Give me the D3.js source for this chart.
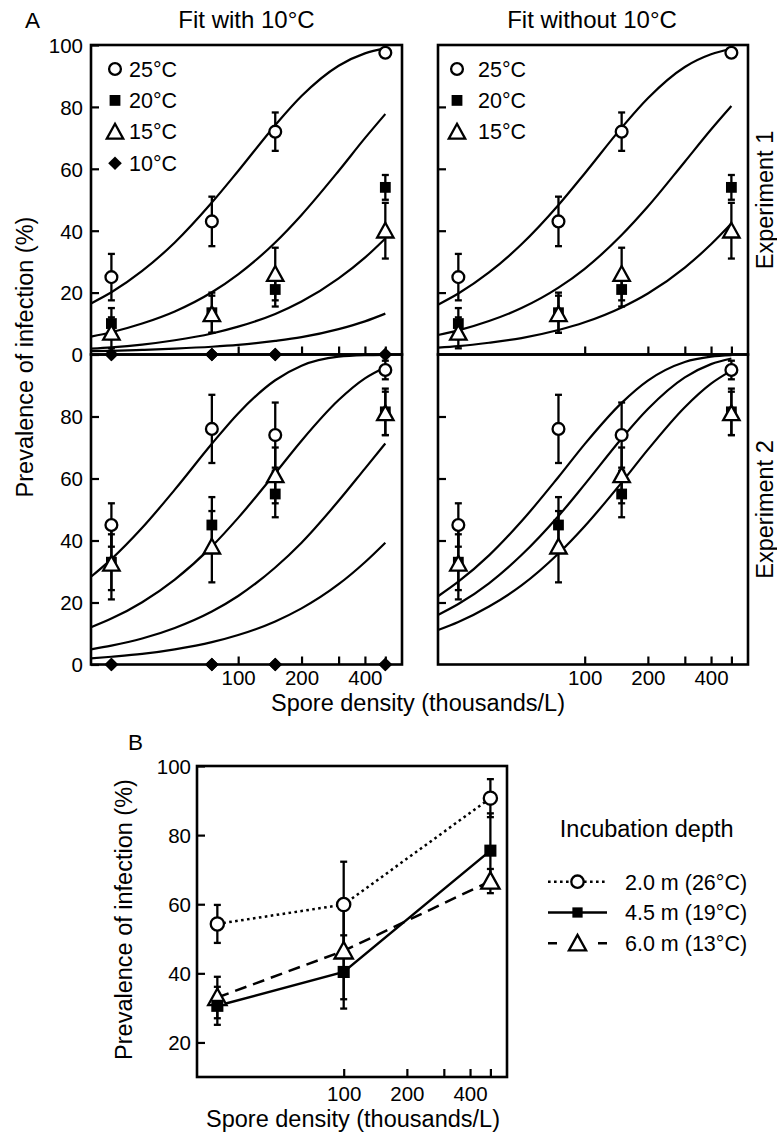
<!DOCTYPE html>
<html><head><meta charset="utf-8">
<script src="https://cdn.jsdelivr.net/npm/d3@7"></script>
<style>
html,body{margin:0;padding:0;background:#fff;}
svg text{font-family:"Liberation Sans",Arial,Helvetica,sans-serif;fill:#000;}
</style></head>
<body>
<svg id="chart" width="777" height="1133"></svg>
<script>
// ---------- DATA ----------
const densities = [25, 75, 150, 500];          // spore density (thousands/L), panel A
const densitiesB = [25, 100, 500];             // panel B
const xTickValues = [100, 200, 300, 400, 500];
const xTickLabels = ["100", "200", "", "400", ""];
const yTicksA = [0, 20, 40, 60, 80, 100];
const yTicksB = [20, 40, 60, 80, 100];
const tempLabels = ["25°C", "20°C", "15°C", "10°C"];

// Experiment 1 observed prevalence (%) and error
const exp1_25 = [25, 43, 72, 97.5];   const exp1_25_err = [7.5, 8, 6.2, 0];
const exp1_20 = [10, 13.5, 21, 54];   const exp1_20_err = [5, 6.5, 5.5, 4];
const exp1_15 = [7, 13, 26, 40];      const exp1_15_err = [5, 6, 8.5, 9];
const exp1_10 = [0, 0, 0, 0];
// Experiment 2
const exp2_25 = [45, 76, 74, 95];     const exp2_25_err = [7, 11, 10.5, 3];
const exp2_20 = [33, 45, 55, 81.5];   const exp2_20_err = [9, 9, 7.5, 7.5];
const exp2_15 = [32.5, 38, 61, 81];   const exp2_15_err = [11.5, 11.5, 9, 7];
const exp2_10 = [0, 0, 0, 0];

// fitted curves at these densities
const curveX = [20, 25, 35, 50, 75, 100, 150, 200, 300, 400, 500];
const fitWith_exp1_25 = [16.5, 20.1, 27.0, 36.2, 49.1, 59.3, 74.1, 83.5, 93.3, 97.3, 98.9];
const fitWith_exp1_20 = [5.8, 7.2, 10.0, 13.9, 20.1, 25.9, 36.2, 45.1, 59.3, 69.9, 77.7];
const fitWith_exp1_15 = [1.9, 2.3, 3.2, 4.6, 6.8, 9.0, 13.1, 17.1, 24.6, 31.3, 37.5];
const fitWith_exp1_10 = [1.1, 1.2, 1.5, 1.9, 2.5, 3.1, 4.4, 5.6, 8.2, 10.7, 13.2];
const fitWithout_exp1_25 = [16.1, 19.7, 26.5, 35.6, 48.3, 58.5, 73.3, 82.8, 92.9, 97.0, 98.8];
const fitWithout_exp1_20 = [6.3, 7.8, 10.8, 15.0, 21.6, 27.7, 38.6, 47.8, 62.3, 72.7, 80.3];
const fitWithout_exp1_15 = [2.2, 2.7, 3.8, 5.3, 7.9, 10.4, 15.2, 19.7, 28.1, 35.6, 42.3];
const fitWith_exp2_25 = [28.3, 34.0, 44.1, 56.4, 71.2, 81.0, 91.7, 96.4, 99.3, 99.8, 99.9];
const fitWith_exp2_20 = [12.0, 14.8, 20.1, 27.4, 38.1, 47.3, 61.7, 72.2, 85.3, 92.3, 95.9];
const fitWith_exp2_15 = [4.9, 6.1, 8.4, 11.8, 17.1, 22.1, 31.3, 39.3, 52.8, 63.2, 71.3];
const fitWith_exp2_10 = [2.0, 2.5, 3.4, 4.9, 7.2, 9.5, 13.9, 18.1, 25.9, 33.0, 39.3];
const fitWithout_exp2_25 = [22.0, 26.7, 35.2, 46.2, 60.5, 71.1, 84.4, 91.6, 97.6, 99.3, 99.8];
const fitWithout_exp2_20 = [16.0, 19.5, 26.2, 35.3, 47.9, 58.1, 72.9, 82.4, 92.6, 96.9, 98.7];
const fitWithout_exp2_15 = [11.1, 13.7, 18.7, 25.5, 35.8, 44.6, 58.7, 69.3, 83.0, 90.6, 94.8];

// Panel B: incubation depth
const depthLabels = ["2.0 m (26°C)", "4.5 m (19°C)", "6.0 m (13°C)"];
const depth20 = [54.3, 59.9, 90.7];  const depth20_err = [5.5, 12.4, 5.5];
const depth45 = [30.6, 40.4, 75.5];  const depth45_err = [5.5, 10.6, 10.8];
const depth60 = [33.0, 46.5, 66.7];  const depth60_err = [6, 14, 3.5];

// ---------- DRAWING ----------
const svg = d3.select("#chart");
const FONT_TICK = 20.5, FONT_LAB = 23.5, FONT_TITLE = 24, FONT_LEG = 21.5;

function marker(g, type, x, y, s) {
  s = s || 1;
  if (type === "circle") {
    g.append("circle").attr("cx", x).attr("cy", y).attr("r", 5.9 * s)
      .attr("fill", "#fff").attr("stroke", "#000").attr("stroke-width", 2.3);
  } else if (type === "square") {
    const h = 5.4 * s;
    g.append("rect").attr("x", x - h).attr("y", y - h).attr("width", 2 * h).attr("height", 2 * h)
      .attr("fill", "#000");
  } else if (type === "triangle") {
    const w = 8.2 * s, up = 8 * s, dn = 6.8 * s;
    g.append("path").attr("d", `M${x},${y - up}L${x + w},${y + dn}L${x - w},${y + dn}Z`)
      .attr("fill", "#fff").attr("stroke", "#000").attr("stroke-width", 2.3).attr("stroke-linejoin", "miter");
  } else if (type === "diamond") {
    const h = 6.8 * s;
    g.append("path").attr("d", `M${x},${y - h}L${x + h},${y}L${x},${y + h}L${x - h},${y}Z`).attr("fill", "#000");
  }
}

function errBars(g, x, y, xs, vals, errs) {
  vals.forEach((v, i) => {
    const e = errs[i];
    if (!e) return;
    const px = x(xs[i]);
    g.append("line").attr("x1", px).attr("x2", px).attr("y1", y(v - e)).attr("y2", y(v + e))
      .attr("stroke", "#000").attr("stroke-width", 2.3);
    [v - e, v + e].forEach(c => g.append("line").attr("x1", px - 3.5).attr("x2", px + 3.5)
      .attr("y1", y(c)).attr("y2", y(c)).attr("stroke", "#000").attr("stroke-width", 2.3));
  });
}

function styleAxis(a) {
  a.select(".domain").remove();
  a.selectAll(".tick line").attr("stroke", "#000").attr("stroke-width", 2.2);
  a.selectAll(".tick text").attr("font-size", FONT_TICK).attr("font-family", null);
}

function panel(opt) {
  const g = svg.append("g");
  const x = d3.scaleLog().domain([20, 600]).range(opt.xr);
  const y = d3.scaleLinear().domain([0, 100]).range(opt.yr);
  const ya = g.append("g").attr("transform", `translate(${opt.xr[0]},0)`)
    .call(d3.axisLeft(y).tickValues(opt.yticks).tickSizeInner(-8).tickSizeOuter(0).tickPadding(8)
      .tickFormat(opt.ylabels ? d3.format("d") : () => ""));
  styleAxis(ya);
  ya.selectAll(".tick text").attr("dy", "0.36em");
  const xa = g.append("g").attr("transform", `translate(0,${opt.yr[0]})`)
    .call(d3.axisBottom(x).tickValues(xTickValues).tickSizeInner(-8).tickSizeOuter(0).tickPadding(5.5)
      .tickFormat((d, i) => opt.xlabels ? xTickLabels[i] : ""));
  styleAxis(xa);
  const line = d3.line().x((d, i) => x(curveX[i])).y(d => y(d)).curve(d3.curveMonotoneX);
  opt.curves.forEach(c => g.append("path").attr("d", line(c)).attr("fill", "none")
    .attr("stroke", "#000").attr("stroke-width", 2.2));
  opt.series.forEach(s => { if (s.err) errBars(g, x, y, densities, s.vals, s.err); });
  opt.series.forEach(s => s.vals.forEach((v, i) => marker(g, s.type, x(densities[i]), y(v))));
  g.append("rect").attr("x", opt.xr[0]).attr("y", opt.yr[1]).attr("width", opt.xr[1] - opt.xr[0])
    .attr("height", opt.yr[0] - opt.yr[1]).attr("fill", "none").attr("stroke", "#000").attr("stroke-width", 2.6);
  opt.series.filter(s => s.type === "diamond").forEach(s => s.vals.forEach((v, i) => marker(g, "diamond", x(densities[i]), y(v))));
  return { g, x, y };
}

const XL = [91, 402], XR = [438, 748];
const YT = [354.5, 45], YB = [664.5, 354.5];

const s1 = [
  { type: "circle", vals: exp1_25, err: exp1_25_err },
  { type: "square", vals: exp1_20, err: exp1_20_err },
  { type: "triangle", vals: exp1_15, err: exp1_15_err }];
const s2 = [
  { type: "circle", vals: exp2_25, err: exp2_25_err },
  { type: "square", vals: exp2_20, err: exp2_20_err },
  { type: "triangle", vals: exp2_15, err: exp2_15_err }];

panel({ xr: XL, yr: YT, yticks: yTicksA, ylabels: true, xlabels: false,
  curves: [fitWith_exp1_25, fitWith_exp1_20, fitWith_exp1_15, fitWith_exp1_10],
  series: s1.concat([{ type: "diamond", vals: exp1_10 }]) });
panel({ xr: XR, yr: YT, yticks: [20, 40, 60, 80], ylabels: false, xlabels: false,
  curves: [fitWithout_exp1_25, fitWithout_exp1_20, fitWithout_exp1_15], series: s1 });
panel({ xr: XL, yr: YB, yticks: [0, 20, 40, 60, 80], ylabels: true, xlabels: true,
  curves: [fitWith_exp2_25, fitWith_exp2_20, fitWith_exp2_15, fitWith_exp2_10],
  series: s2.concat([{ type: "diamond", vals: exp2_10 }]) });
panel({ xr: XR, yr: YB, yticks: [20, 40, 60, 80], ylabels: false, xlabels: true,
  curves: [fitWithout_exp2_25, fitWithout_exp2_20, fitWithout_exp2_15], series: s2 });

// Legends in panel A
const legTypes = ["circle", "square", "triangle", "diamond"];
function legendA(mx, tx, n) {
  for (let i = 0; i < n; i++) {
    const cy = 69 + i * 31.4;
    marker(svg, legTypes[i], mx, cy);
    svg.append("text").attr("x", tx).attr("y", cy + 7.6).attr("font-size", FONT_LEG).text(tempLabels[i]);
  }
}
legendA(115, 129, 4);
legendA(457, 478, 3);

// Titles & labels panel A
svg.append("text").attr("x", 25).attr("y", 28).attr("font-size", 22.5).text("A");
svg.append("text").attr("x", 246.5).attr("y", 28).attr("text-anchor", "middle").attr("font-size", FONT_TITLE).text("Fit with 10°C");
svg.append("text").attr("x", 592).attr("y", 28).attr("text-anchor", "middle").attr("font-size", FONT_TITLE).text("Fit without 10°C");
svg.append("text").attr("transform", "translate(33,357) rotate(-90)").attr("text-anchor", "middle")
  .attr("font-size", FONT_LAB).text("Prevalence of infection (%)");
svg.append("text").attr("x", 418).attr("y", 710.5).attr("text-anchor", "middle").attr("font-size", FONT_LAB).text("Spore density (thousands/L)");
svg.append("text").attr("transform", "translate(773,200) rotate(-90)").attr("text-anchor", "middle")
  .attr("font-size", FONT_LAB).text("Experiment 1");
svg.append("text").attr("transform", "translate(773,509.5) rotate(-90)").attr("text-anchor", "middle")
  .attr("font-size", FONT_LAB).text("Experiment 2");

// ---------- PANEL B ----------
const xB = d3.scaleLog().domain([20, 600]).range([197, 507]);
const yB = d3.scaleLinear().domain([10, 100]).range([1077, 766]);
const gB = svg.append("g");
const yaB = gB.append("g").attr("transform", "translate(197,0)")
  .call(d3.axisLeft(yB).tickValues(yTicksB).tickSizeInner(-8).tickSizeOuter(0).tickPadding(6).tickFormat(d3.format("d")));
styleAxis(yaB);
yaB.selectAll(".tick text").attr("dy", "0.36em");
const xaB = gB.append("g").attr("transform", "translate(0,1077)")
  .call(d3.axisBottom(xB).tickValues(xTickValues).tickSizeInner(-8).tickSizeOuter(0).tickPadding(9)
    .tickFormat((d, i) => xTickLabels[i]));
styleAxis(xaB);

const seriesB = [
  { type: "circle", vals: depth20, err: depth20_err, dash: "2.6,3.4" },
  { type: "square", vals: depth45, err: depth45_err, dash: null },
  { type: "triangle", vals: depth60, err: depth60_err, dash: "12,7" }];
const lineB = d3.line().x((d, i) => xB(densitiesB[i])).y(d => yB(d));
seriesB.forEach(s => {
  const p = gB.append("path").attr("d", lineB(s.vals)).attr("fill", "none").attr("stroke", "#000").attr("stroke-width", 2.5);
  if (s.dash) p.attr("stroke-dasharray", s.dash);
});
seriesB.forEach(s => errBars(gB, xB, yB, densitiesB, s.vals, s.err));
seriesB.slice().reverse().forEach(s => s.vals.forEach((v, i) => marker(gB, s.type, xB(densitiesB[i]), yB(v), 1.12)));
gB.append("rect").attr("x", 197).attr("y", 766).attr("width", 310).attr("height", 311)
  .attr("fill", "none").attr("stroke", "#000").attr("stroke-width", 2.6);

svg.append("text").attr("x", 128).attr("y", 750).attr("font-size", 22.5).text("B");
svg.append("text").attr("transform", "translate(132,919.5) rotate(-90)").attr("text-anchor", "middle")
  .attr("font-size", FONT_LAB).text("Prevalence of infection (%)");
svg.append("text").attr("x", 353).attr("y", 1127).attr("text-anchor", "middle").attr("font-size", FONT_LAB).text("Spore density (thousands/L)");

// Legend B
svg.append("text").attr("x", 646.7).attr("y", 837).attr("text-anchor", "middle").attr("font-size", FONT_LAB).text("Incubation depth");
seriesB.forEach((s, i) => {
  const cy = 881.7 + i * 30.8;
  const l = svg.append("line").attr("x1", 548).attr("x2", 607).attr("y1", cy).attr("y2", cy)
    .attr("stroke", "#000").attr("stroke-width", 2.5);
  if (s.type === "circle") l.attr("stroke-dasharray", "2.6,3.4");
  if (s.type === "triangle") l.attr("stroke-dasharray", "9,41");
  marker(svg, s.type, 577.5, cy, s.type === "square" ? 0.95 : 1.05);
  svg.append("text").attr("x", 625).attr("y", cy + 7.8).attr("font-size", FONT_LEG).text(depthLabels[i]);
});
</script>
</body></html>
